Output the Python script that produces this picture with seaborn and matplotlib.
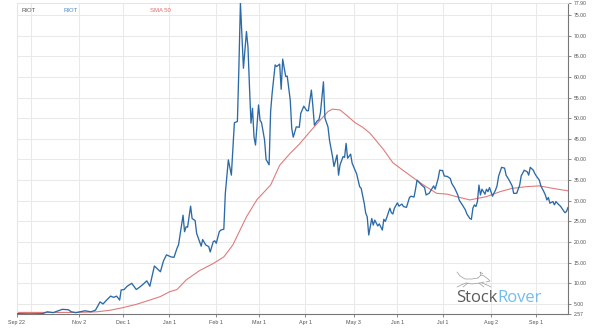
import matplotlib
matplotlib.use("Agg")
import matplotlib.pyplot as plt
from matplotlib.lines import Line2D
import seaborn as sns
import pandas as pd

# RIOT daily close (USD)
riot_dates = [
    "2020-09-22", "2020-09-30", "2020-10-09", "2020-10-12", "2020-10-16", "2020-10-22",
    "2020-10-26", "2020-10-28", "2020-10-31", "2020-11-06", "2020-11-10", "2020-11-13",
    "2020-11-16", "2020-11-18", "2020-11-20", "2020-11-23", "2020-11-25", "2020-11-27",
    "2020-11-29", "2020-11-30", "2020-12-02", "2020-12-04", "2020-12-07", "2020-12-10",
    "2020-12-12", "2020-12-14", "2020-12-17", "2020-12-19", "2020-12-22", "2020-12-26",
    "2020-12-28", "2020-12-30", "2021-01-02", "2021-01-04", "2021-01-06", "2021-01-07",
    "2021-01-10", "2021-01-11", "2021-01-12", "2021-01-13", "2021-01-15", "2021-01-16",
    "2021-01-18", "2021-01-19", "2021-01-22", "2021-01-23", "2021-01-25", "2021-01-27",
    "2021-01-28", "2021-01-30", "2021-01-31", "2021-02-01", "2021-02-03", "2021-02-04",
    "2021-02-06", "2021-02-07", "2021-02-09", "2021-02-11", "2021-02-13", "2021-02-15",
    "2021-02-16", "2021-02-17", "2021-02-19", "2021-02-21", "2021-02-22", "2021-02-23",
    "2021-02-24", "2021-02-25", "2021-02-26", "2021-02-27", "2021-03-01", "2021-03-02",
    "2021-03-03", "2021-03-05", "2021-03-06", "2021-03-08", "2021-03-09", "2021-03-10",
    "2021-03-12", "2021-03-13", "2021-03-15", "2021-03-16", "2021-03-17", "2021-03-19",
    "2021-03-20", "2021-03-22", "2021-03-23", "2021-03-24", "2021-03-26", "2021-03-28",
    "2021-03-29", "2021-03-31", "2021-04-02", "2021-04-03", "2021-04-05", "2021-04-06",
    "2021-04-07", "2021-04-09", "2021-04-10", "2021-04-11", "2021-04-13", "2021-04-14",
    "2021-04-16", "2021-04-17", "2021-04-19", "2021-04-20", "2021-04-22", "2021-04-23",
    "2021-04-24", "2021-04-26", "2021-04-27", "2021-04-28", "2021-04-29", "2021-05-01",
    "2021-05-02", "2021-05-04", "2021-05-05", "2021-05-07", "2021-05-08", "2021-05-10",
    "2021-05-11", "2021-05-12", "2021-05-13", "2021-05-15", "2021-05-16", "2021-05-17",
    "2021-05-19", "2021-05-20", "2021-05-22", "2021-05-23", "2021-05-24", "2021-05-25",
    "2021-05-27", "2021-05-28", "2021-05-29", "2021-05-30", "2021-06-01", "2021-06-02",
    "2021-06-04", "2021-06-05", "2021-06-07", "2021-06-09", "2021-06-10", "2021-06-12",
    "2021-06-13", "2021-06-14", "2021-06-15", "2021-06-17", "2021-06-19", "2021-06-20",
    "2021-06-22", "2021-06-23", "2021-06-25", "2021-06-26", "2021-06-28", "2021-06-29",
    "2021-07-01", "2021-07-02", "2021-07-04", "2021-07-06", "2021-07-07", "2021-07-09",
    "2021-07-11", "2021-07-12", "2021-07-14", "2021-07-16", "2021-07-17", "2021-07-19",
    "2021-07-20", "2021-07-21", "2021-07-22", "2021-07-23", "2021-07-24", "2021-07-25",
    "2021-07-26", "2021-07-27", "2021-07-29", "2021-07-30", "2021-07-31", "2021-08-01",
    "2021-08-03", "2021-08-05", "2021-08-06", "2021-08-07", "2021-08-09", "2021-08-11",
    "2021-08-12", "2021-08-14", "2021-08-16", "2021-08-17", "2021-08-19", "2021-08-21",
    "2021-08-22", "2021-08-24", "2021-08-26", "2021-08-27", "2021-08-28", "2021-08-30",
    "2021-08-31", "2021-09-01", "2021-09-03", "2021-09-04", "2021-09-06", "2021-09-07",
    "2021-09-08", "2021-09-09", "2021-09-10", "2021-09-12", "2021-09-13", "2021-09-14",
    "2021-09-16", "2021-09-17", "2021-09-19", "2021-09-20", "2021-09-21", "2021-09-22",
]
riot_close = [
    2.65, 2.6, 2.65, 3.1, 2.9, 3.7,
    3.6, 3.1, 2.9, 3.35, 3.1, 3.5,
    5.5, 5.0, 5.8, 6.9, 6.6, 6.9,
    5.95, 8.4, 8.5, 9.3, 10.0, 8.5,
    9.0, 9.6, 10.6, 9.3, 14.2, 12.8,
    15.4, 16.9, 16.4, 16.3, 18.5, 19.3,
    26.5, 22.5, 23.7, 23.6, 28.7, 25.7,
    25.2, 22.1, 19.0, 20.6, 19.3, 18.9,
    17.6, 20.1, 20.3, 19.7, 22.5, 22.9,
    23.1, 31.8, 39.9, 36.2, 48.9, 49.2,
    62.5, 77.9, 62.1, 71.0, 67.3, 57.6,
    48.8, 52.4, 45.5, 43.5, 53.2, 49.5,
    48.9, 44.7, 40.0, 38.7, 51.6, 56.0,
    62.9, 62.5, 63.1, 57.0, 64.3, 60.1,
    60.2, 54.4, 47.5, 45.4, 47.9, 47.8,
    51.2, 52.9, 51.8, 51.8, 56.8, 52.9,
    48.3, 49.4, 49.6, 51.3, 58.8, 50.0,
    47.9, 44.7, 40.7, 38.3, 41.1, 36.2,
    38.7, 40.7, 40.5, 43.9, 40.3, 41.3,
    39.1, 37.4, 36.5, 33.4, 33.0, 29.4,
    27.0, 26.1, 21.7, 25.7, 24.1, 25.3,
    23.9, 24.4, 22.9, 25.5, 25.0, 26.0,
    28.2, 27.1, 26.8, 28.2, 29.5, 28.7,
    29.2, 28.6, 28.4, 30.8, 31.1, 30.9,
    32.8, 35.0, 34.6, 33.8, 33.2, 31.4,
    31.8, 32.4, 33.6, 32.8, 35.4, 37.4,
    37.3, 36.0, 35.9, 35.4, 34.2, 33.0,
    31.4, 30.1, 29.0, 27.8, 26.8, 25.7,
    25.5, 28.2, 29.0, 28.6, 29.8, 33.8,
    31.4, 32.8, 31.6, 32.8, 32.2, 33.2,
    31.1, 32.6, 33.6, 35.9, 38.1, 37.9,
    36.2, 35.0, 33.6, 31.8, 31.8, 33.8,
    36.0, 37.4, 37.0, 36.2, 38.1, 37.4,
    36.6, 36.0, 35.0, 33.6, 32.2, 31.4,
    30.2, 30.8, 29.4, 29.8, 29.0, 29.8,
    29.0, 28.7, 27.6, 27.1, 27.4, 28.4,
]

# 50-day simple moving average
sma_dates = [
    "2020-09-22", "2020-11-01", "2020-11-14", "2020-11-23", "2020-12-01", "2020-12-10",
    "2020-12-19", "2020-12-26", "2021-01-01", "2021-01-06", "2021-01-12", "2021-01-21",
    "2021-01-30", "2021-02-06", "2021-02-12", "2021-02-21", "2021-02-28", "2021-03-09",
    "2021-03-15", "2021-03-22", "2021-03-28", "2021-04-04", "2021-04-11", "2021-04-16",
    "2021-04-19", "2021-04-24", "2021-04-28", "2021-05-04", "2021-05-09", "2021-05-14",
    "2021-05-23", "2021-05-29", "2021-06-05", "2021-06-14", "2021-06-20", "2021-06-27",
    "2021-07-04", "2021-07-10", "2021-07-19", "2021-07-30", "2021-08-08", "2021-08-16",
    "2021-08-25", "2021-09-03", "2021-09-12", "2021-09-22",
]
sma_values = [
    2.95, 2.95, 3.1, 3.5, 4.1, 4.9,
    5.95, 6.8, 7.95, 8.5, 10.8, 13.1,
    14.8, 16.4, 19.3, 26.1, 30.3, 33.8,
    38.6, 41.5, 43.7, 46.7, 49.6, 51.6,
    52.2, 52.0, 50.8, 48.9, 47.8, 46.3,
    42.3, 39.2, 37.3, 34.9, 33.4, 31.8,
    31.6, 31.0, 30.2, 31.0, 32.2, 33.0,
    33.4, 33.6, 33.0, 32.4,
]

y_ticks = [2.57, 5, 10, 15, 20, 25, 30, 35, 40, 45, 50, 55, 60, 65, 70, 75, 77.90]
x_tick_dates = ["2020-09-22", "2020-11-02", "2020-12-01", "2021-01-01", "2021-02-01",
                "2021-03-01", "2021-04-01", "2021-05-03", "2021-06-01", "2021-07-01",
                "2021-08-02", "2021-09-01"]
x_tick_labels = ["Sep 22", "Nov 2", "Dec 1", "Jan 1", "Feb 1", "Mar 1", "Apr 1",
                 "May 3", "Jun 1", "Jul 1", "Aug 2", "Sep 1"]
extra_grid_dates = ["2020-10-01"]

price = pd.DataFrame({"date": pd.to_datetime(riot_dates), "close": riot_close})
sma = pd.DataFrame({"date": pd.to_datetime(sma_dates), "sma": sma_values})

sns.set_theme(style="white")
plt.rcParams["font.family"] = ["Liberation Sans", "DejaVu Sans"]

W, H = 594, 330
fig = plt.figure(figsize=(W / 100, H / 100), dpi=100)
fig.patch.set_facecolor("white")
ax = fig.add_axes([17 / W, 16 / H, 551 / W, 311 / H])
ax.set_facecolor("white")

grid_kw = dict(color="#e9e9e9", lw=0.75, zorder=0)
for v in y_ticks[1:-1]:
    ax.axhline(v, **grid_kw)
for d in pd.to_datetime(x_tick_dates + extra_grid_dates):
    ax.axvline(d, **grid_kw)

sns.lineplot(data=sma, x="date", y="sma", ax=ax, color="#e07b7b", lw=0.8, zorder=2)
sns.lineplot(data=price, x="date", y="close", ax=ax, color="#2b6aa8", lw=0.95, zorder=3)

ax.set_xlim(pd.Timestamp("2020-09-22"), pd.Timestamp("2021-09-22"))
ax.set_ylim(2.57, 77.90)
ax.set_xlabel("")
ax.set_ylabel("")

ax.set_xticks(pd.to_datetime(x_tick_dates))
ax.set_xticklabels(x_tick_labels)
ax.yaxis.tick_right()
ax.set_yticks(y_ticks)
ax.set_yticklabels([f"{v:.2f}" for v in y_ticks])
ax.tick_params(axis="x", bottom=True, length=2, width=0.6, color="#777777",
               labelsize=3.9, labelcolor="#555555", pad=2)
ax.tick_params(axis="y", right=True, left=False, length=2, width=0.6, color="#777777",
               labelsize=3.7, labelcolor="#555555", pad=2)

for side in ("left", "top"):
    ax.spines[side].set_color("#e6e6e6")
    ax.spines[side].set_linewidth(0.75)
for side in ("bottom", "right"):
    ax.spines[side].set_color("#777777")
    ax.spines[side].set_linewidth(0.8)

# series legend along the top edge
fig.text(21.5 / W, 1 - 10.7 / H, "RIOT", fontsize=4.3, color="#555555", va="center")
fig.text(64 / W, 1 - 10.7 / H, "RIOT", fontsize=4.3, color="#4a86c5", va="center")
fig.text(150 / W, 1 - 10.7 / H, "SMA 50", fontsize=4.3, color="#e06a6a", va="center")

# brand mark: a small running-dog sketch above the wordmark
def px(points):
    return [p[0] / W for p in points], [1 - p[1] / H for p in points]

dog_strokes = [
    [(457, 272), (460, 276), (465, 279), (472, 279), (478, 278)],
    [(478, 278), (481, 275), (484, 276), (488, 279), (490, 281), (486, 282)],
    [(466, 283), (472, 284), (480, 283), (484, 282)],
    [(466, 283), (461, 285), (457, 287)],
    [(468, 283), (463, 287)],
    [(482, 283), (487, 285), (491, 287)],
    [(479, 283), (484, 287)],
    [(481, 275), (480, 272), (483, 274)],
]
for stroke in dog_strokes:
    xs, ys = px(stroke)
    fig.add_artist(Line2D(xs, ys, color="#9a9a9a", lw=0.5, transform=fig.transFigure))

logo_font = ["Open Sans", "DejaVu Sans"]
t1 = fig.text(456 / W, 1 - 302.5 / H, "Stock", fontsize=12, color="#5b5b5b",
              va="baseline", family=logo_font)
fig.canvas.draw()
bb = t1.get_window_extent(renderer=fig.canvas.get_renderer())
fig.text(bb.x1 / W, 1 - 302.5 / H, "Rover", fontsize=12, color="#74bde9",
         va="baseline", family=logo_font)

fig.savefig("out.png", dpi=100, facecolor="white")
